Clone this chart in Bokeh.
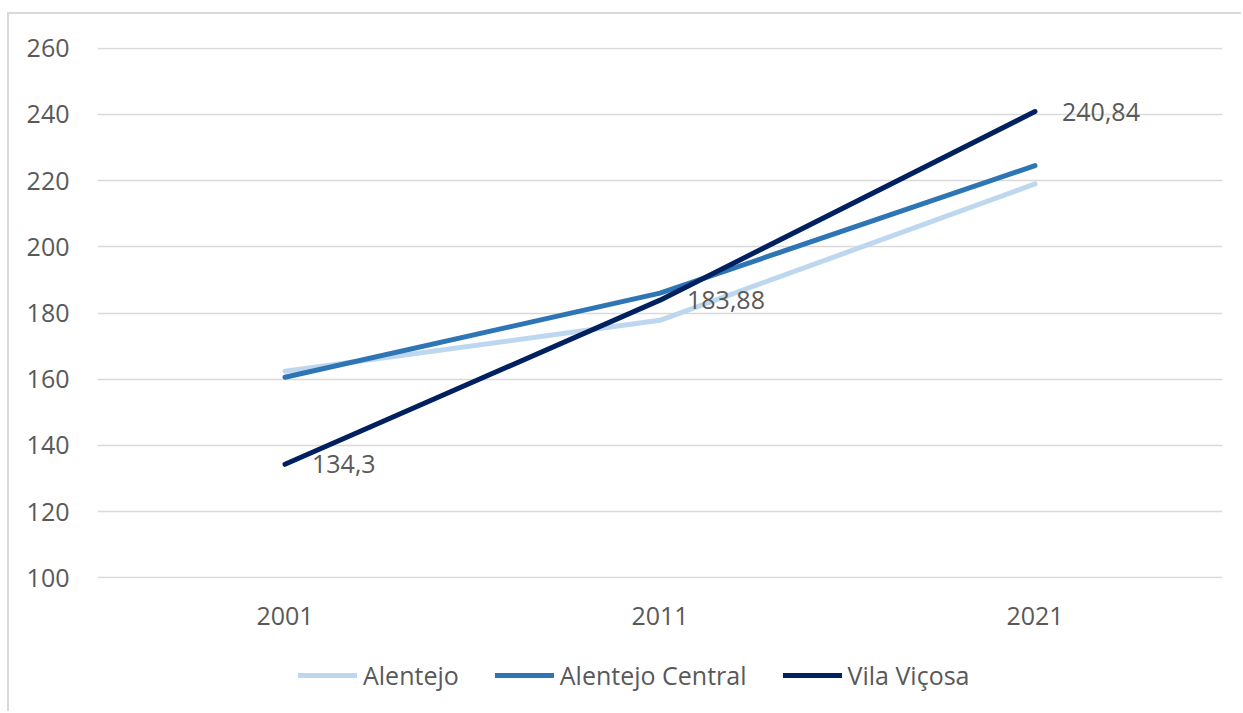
from bokeh.plotting import figure
from bokeh.layouts import column, row
from bokeh.models import FactorRange, Range1d, Legend, LegendItem, ColumnDataSource, LabelSet, Spacer
from bokeh.core.properties import value
from bokeh.embed import file_html
from bokeh.resources import INLINE

years = ["2001", "2011", "2021"]
alentejo = [162.4, 177.8, 219.0]
alentejo_central = [160.6, 186.0, 224.5]
vila_vicosa = [134.3, 183.88, 240.84]
series_names = ["Alentejo", "Alentejo Central", "Vila Viçosa"]
colors = ["#BDD7EE", "#2E75B6", "#002060"]
y_ticks = [100, 120, 140, 160, 180, 200, 220, 240, 260]

FONT = "Open Sans"
FS = "25px"
TXT = "#595959"
BORDER = "2px solid #d9d9d9"

p = figure(x_range=FactorRange(factors=years, range_padding=0),
           y_range=Range1d(99.8, 260.2),
           width=1234, height=619, output_backend="svg", toolbar_location=None,
           min_border_left=88, min_border_right=21, min_border_top=33, min_border_bottom=55)
p.styles = {"border-top": BORDER, "border-left": BORDER}
p.outline_line_color = None
p.background_fill_color = "white"

p.xgrid.grid_line_color = None
p.ygrid.grid_line_color = "#d9d9d9"
p.ygrid.grid_line_width = 1.5
p.yaxis.ticker = y_ticks

for ax in (p.xaxis[0], p.yaxis[0]):
    ax.axis_line_color = None
    ax.major_tick_line_color = None
    ax.minor_tick_line_color = None
    ax.major_label_text_font = FONT
    ax.major_label_text_font_size = FS
    ax.major_label_text_color = TXT
p.yaxis.major_label_standoff = 22
p.xaxis.major_label_standoff = 22

renderers = []
for name, vals, col in zip(series_names, [alentejo, alentejo_central, vila_vicosa], colors):
    r = p.line(x=years, y=vals, line_color=col, line_width=5, line_cap="round", line_join="round")
    renderers.append(r)

lab_src = ColumnDataSource(dict(x=years, y=vila_vicosa,
                                t=[str(v).replace(".", ",") for v in vila_vicosa]))
labels = LabelSet(x="x", y="y", text="t", source=lab_src, x_offset=27, y_offset=0,
                  text_font=value(FONT), text_font_size=FS, text_color=TXT,
                  text_baseline="middle", text_align="left")
p.add_layout(labels)

# legend strip below the chart (proxy lines lie outside its visible range)
p2 = figure(width=1234, height=80, output_backend="svg", toolbar_location=None,
            x_range=Range1d(0, 1), y_range=Range1d(0, 1),
            min_border_left=0, min_border_right=0, min_border_top=0, min_border_bottom=0)
p2.styles = {"border-left": BORDER}
p2.axis.visible = False
p2.grid.visible = False
p2.outline_line_color = None
leg_renderers = [p2.line(x=[-10, -9], y=[-10, -10], line_color=c, line_width=5, line_cap="round")
                 for c in colors]
legend = Legend(items=[LegendItem(label=n, renderers=[r]) for n, r in zip(series_names, leg_renderers)],
                orientation="horizontal", location=(201, 19),
                label_text_font=FONT, label_text_font_size=FS, label_text_color=TXT,
                glyph_width=59, glyph_height=30, label_height=30, label_standoff=6, spacing=36,
                border_line_color=None, background_fill_alpha=0,
                margin=0, padding=0)
p2.add_layout(legend, "center")

layout = row(Spacer(width=7), column(Spacer(height=12), p, p2, spacing=0), spacing=0)
open("out.html", "w").write(file_html(layout, INLINE))
